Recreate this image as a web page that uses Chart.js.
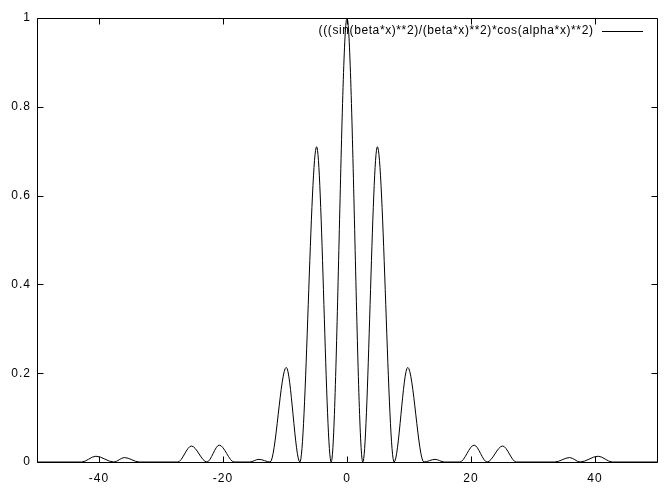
<!DOCTYPE html>
<html>
<head>
<meta charset="utf-8">
<script src="https://cdn.jsdelivr.net/npm/chart.js@4/dist/chart.umd.min.js"></script>
<style>
html, body { margin: 0; padding: 0; background: #fff; }
canvas { display: block; }
</style>
</head>
<body>
<canvas id="chart" width="671" height="493"></canvas>
<script>
const legendLabel = '(((sin(beta*x)**2)/(beta*x)**2)*cos(alpha*x)**2)';

// peaks and zeros; Chart.js smooths between them
const xValues = [-50, -42.8, -40.5, -37.6, -35.9, -33.5, -27.3, -25.1, -22.6, -20.6, -18.2, -15.7, -14.2, -12.4,
	-9.8, -7.6, -4.9, -2.55, 0, 2.55, 4.9, 7.6, 9.8,
	12.4, 14.2, 15.7, 18.2, 20.5, 22.6, 25.1, 27.3, 33.5, 35.9, 37.6, 40.5, 42.8, 50];
const yValues = [0, 0, 0.013, 0, 0.010, 0, 0, 0.036, 0, 0.038, 0, 0, 0.006, 0,
	0.213, 0, 0.71, 0, 1, 0, 0.71, 0, 0.213,
	0, 0.006, 0, 0, 0.038, 0, 0.036, 0, 0, 0.010, 0, 0.013, 0, 0];

const xTickValues = [-40, -20, 0, 20, 40];
const xTickLabels = ['-40', '-20', '0', '20', '40'];
const yTickValues = [0, 0.2, 0.4, 0.6, 0.8, 1];
const yTickLabels = ['0', '0.2', '0.4', '0.6', '0.8', '1'];

const points = xValues.map((x, i) => ({x: x, y: yValues[i]}));
const fontFamily = '"Liberation Sans", Arial, Helvetica, sans-serif';

// gnuplot style frame: full border, inward ticks mirrored on all sides, key in the top right
const framePlugin = {
	id: 'frame',
	beforeDraw(chart) {
		// gnuplot's labels are spaced out wider than plain Arial
		chart.ctx.letterSpacing = '1px';
	},
	afterDatasetsDraw(chart) {
		const ctx = chart.ctx;
		const a = chart.chartArea;
		const xs = chart.scales.x;
		const ys = chart.scales.y;
		const l = Math.round(a.left) + 0.5, r = Math.round(a.right) + 0.5;
		const t = Math.round(a.top) + 0.5, b = Math.round(a.bottom) + 0.5;
		ctx.save();
		ctx.strokeStyle = '#000';
		ctx.lineWidth = 1;
		ctx.beginPath();
		ctx.moveTo(l, t); ctx.lineTo(r, t); ctx.lineTo(r, b); ctx.lineTo(l, b); ctx.closePath();
		xTickValues.forEach(v => {
			const px = Math.round(xs.getPixelForValue(v)) + 0.5;
			ctx.moveTo(px, b); ctx.lineTo(px, b - 6);
			ctx.moveTo(px, t); ctx.lineTo(px, t + 6);
		});
		yTickValues.forEach(v => {
			const py = Math.round(ys.getPixelForValue(v)) + 0.5;
			ctx.moveTo(l, py); ctx.lineTo(l + 6, py);
			ctx.moveTo(r, py); ctx.lineTo(r - 6, py);
		});
		ctx.stroke();

		ctx.fillStyle = '#000';
		ctx.font = '12px ' + fontFamily;
		ctx.letterSpacing = '0.6px';
		ctx.textAlign = 'right';
		ctx.textBaseline = 'middle';
		ctx.fillText(legendLabel, 593.5, 31);
		ctx.beginPath();
		ctx.moveTo(602, 31.5); ctx.lineTo(643, 31.5);
		ctx.stroke();
		ctx.restore();
	}
};

new Chart(document.getElementById('chart'), {
	type: 'line',
	data: {
		datasets: [{
			data: points,
			borderColor: '#000',
			borderWidth: 1,
			pointRadius: 0,
			fill: false,
			cubicInterpolationMode: 'monotone'
		}]
	},
	options: {
		responsive: false,
		animation: false,
		devicePixelRatio: 1,
		layout: {padding: {top: 18, right: 14, left: 0, bottom: 0}},
		plugins: {legend: {display: false}, tooltip: {enabled: false}},
		scales: {
			x: {
				type: 'linear',
				min: -50, max: 50,
				afterBuildTicks: s => { s.ticks = xTickValues.map(v => ({value: v})); },
				afterFit: s => { s.height = 31; },
				grid: {display: false, drawTicks: false},
				border: {display: false},
				ticks: {
					padding: 9,
					color: '#000',
					font: {family: fontFamily, size: 12},
					maxRotation: 0,
					callback: v => xTickLabels[xTickValues.indexOf(v)]
				}
			},
			y: {
				type: 'linear',
				min: 0, max: 1,
				afterBuildTicks: s => { s.ticks = yTickValues.map(v => ({value: v})); },
				afterFit: s => { s.width = 37; },
				grid: {display: false, drawTicks: false},
				border: {display: false},
				ticks: {
					padding: 6,
					color: '#000',
					font: {family: fontFamily, size: 12},
					callback: v => yTickLabels[yTickValues.indexOf(v)]
				}
			}
		}
	},
	plugins: [framePlugin]
});
</script>
</body>
</html>
